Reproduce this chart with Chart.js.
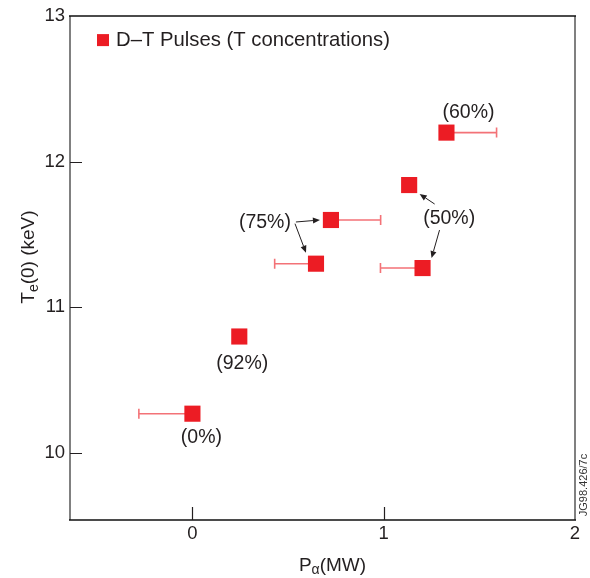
<!DOCTYPE html>
<html>
<head>
<meta charset="utf-8">
<script src="https://cdn.jsdelivr.net/npm/chart.js@4.4.1/dist/chart.umd.min.js"></script>
<style>
  html, body { margin: 0; padding: 0; background: #fff; }
  #wrap { width: 590px; height: 578px; position: relative; }
</style>
</head>
<body>
<div id="wrap"><canvas id="chart"></canvas></div>
<script>
// Alpha heating power (MW) and central electron temperature (keV) per D-T pulse
const pAlpha      = [0, 0.245, 0.646, 0.724, 1.133, 1.203, 1.328];
const teCentral   = [10.27, 10.80, 11.30, 11.60, 11.84, 11.27, 12.20];
// One-sided uncertainty on P_alpha (null where no bar is drawn)
const pAlphaLow   = [-0.28, null, 0.43, null, null, 0.983, null];
const pAlphaHigh  = [null, null, null, 0.984, null, null, 1.59];
// Tritium concentration of each pulse (%)
const tConc       = [0, 92, 75, 75, 50, 50, 60];

const xTicks = [0, 1, 2];
const yTicks = [10, 11, 12, 13];

const seriesLabel = 'D\u2013T Pulses (T concentrations)';
const RED = '#ec1c24';
const INK = '#231f20';
const FONT = '"Liberation Sans", Arial, Helvetica, sans-serif';

// Where each concentration label sits relative to an anchor pulse, and the
// arrows leading from the label to the pulses it refers to (pixel offsets).
const concNotes = [
  { anchor: 0, dx: 9,   dy: 24,  arrows: [] },
  { anchor: 1, dx: 3,   dy: 27,  arrows: [] },
  { anchor: 6, dx: 22,  dy: -20, arrows: [] },
  { anchor: 3, dx: -66, dy: 3, arrows: [
      { pt: 3, sx: -35, sy: 2,   ex: -11, ey: 0 },
      { pt: 2, sx: -21, sy: -40, ex: -10, ey: -11 } ] },
  { anchor: 4, dx: 40,  dy: 34, arrows: [
      { pt: 4, sx: 25.5, sy: 19, ex: 10.5, ey: 9 },
      { pt: 5, sx: 17,  sy: -38, ex: 9,   ey: -10 } ] }
];

const points = pAlpha.map((x, i) => ({ x: x, y: teCentral[i] }));

function arrow(ctx, x1, y1, x2, y2) {
  const ang = Math.atan2(y2 - y1, x2 - x1);
  const head = 7, half = 3;
  const bx = x2 - head * Math.cos(ang), by = y2 - head * Math.sin(ang);
  ctx.beginPath();
  ctx.moveTo(x1, y1);
  ctx.lineTo(bx, by);
  ctx.stroke();
  ctx.beginPath();
  ctx.moveTo(x2, y2);
  ctx.lineTo(bx + half * Math.sin(ang), by - half * Math.cos(ang));
  ctx.lineTo(bx - half * Math.sin(ang), by + half * Math.cos(ang));
  ctx.closePath();
  ctx.fill();
}

const decorations = {
  id: 'decorations',
  beforeDatasetsDraw(chart) {
    const { ctx, scales: { x, y } } = chart;
    ctx.save();
    ctx.strokeStyle = 'rgba(236,28,36,0.62)';
    ctx.lineWidth = 1.6;
    pAlpha.forEach((px, i) => {
      const cy = y.getPixelForValue(teCentral[i]);
      const cx = x.getPixelForValue(px);
      [pAlphaLow[i], pAlphaHigh[i]].forEach(v => {
        if (v === null) return;
        const ex = x.getPixelForValue(v);
        ctx.beginPath();
        ctx.moveTo(cx, cy); ctx.lineTo(ex, cy);
        ctx.moveTo(ex, cy - 5); ctx.lineTo(ex, cy + 5);
        ctx.stroke();
      });
    });
    ctx.restore();
  },
  afterDatasetsDraw(chart) {
    const { ctx, chartArea: a, scales: { x, y } } = chart;
    ctx.save();

    // frame
    ctx.lineCap = 'butt';
    ctx.strokeStyle = '#808080';
    ctx.lineWidth = 2;
    ctx.beginPath();
    ctx.moveTo(a.left, a.top); ctx.lineTo(a.left, a.bottom);
    ctx.moveTo(a.right, a.top); ctx.lineTo(a.right, a.bottom);
    ctx.stroke();
    ctx.strokeStyle = '#111';
    ctx.lineWidth = 1.5;
    ctx.beginPath();
    ctx.moveTo(a.left - 1, a.top); ctx.lineTo(a.right + 1, a.top);
    ctx.moveTo(a.left - 1, a.bottom); ctx.lineTo(a.right + 1, a.bottom);
    ctx.stroke();

    // inward tick marks
    ctx.strokeStyle = INK;
    ctx.lineWidth = 1.2;
    ctx.beginPath();
    yTicks.forEach(v => {
      const py = Math.round(y.getPixelForValue(v)) + 0.5;
      if (py < a.top + 2) return;
      ctx.moveTo(a.left, py); ctx.lineTo(a.left + 12, py);
    });
    xTicks.forEach(v => {
      const px = Math.round(x.getPixelForValue(v)) + 0.5;
      if (px > a.right - 2) return;
      ctx.moveTo(px, a.bottom); ctx.lineTo(px, a.bottom - 13);
    });
    ctx.stroke();

    // concentration labels and arrows
    ctx.fillStyle = INK;
    ctx.strokeStyle = INK;
    ctx.lineWidth = 1;
    ctx.font = '19.5px ' + FONT;
    ctx.textAlign = 'center';
    ctx.textBaseline = 'middle';
    concNotes.forEach(n => {
      const ax = x.getPixelForValue(pAlpha[n.anchor]);
      const ay = y.getPixelForValue(teCentral[n.anchor]);
      ctx.fillText('(' + tConc[n.anchor] + '%)', ax + n.dx, ay + n.dy);
      n.arrows.forEach(r => {
        const px = x.getPixelForValue(pAlpha[r.pt]);
        const py = y.getPixelForValue(teCentral[r.pt]);
        arrow(ctx, px + r.sx, py + r.sy, px + r.ex, py + r.ey);
      });
    });

    // legend
    const lx = a.left + 27, ly = a.top + 24;
    ctx.fillStyle = RED;
    ctx.fillRect(lx, ly - 6, 12, 12);
    ctx.fillStyle = INK;
    ctx.font = '20.3px ' + FONT;
    ctx.textAlign = 'left';
    ctx.fillText(chart.data.datasets[0].label, lx + 19, ly);

    // x axis title: P_alpha(MW)
    const cxm = (a.left + a.right) / 2 + 10;
    const ty = a.bottom + 44;
    ctx.font = '19px ' + FONT;
    ctx.textBaseline = 'alphabetic';
    const wP = ctx.measureText('P').width;
    ctx.font = '14px ' + FONT;
    const wA = ctx.measureText('\u03b1').width;
    ctx.font = '19px ' + FONT;
    const wR = ctx.measureText('(MW)').width;
    let sx = cxm - (wP + wA + wR) / 2;
    ctx.fillText('P', sx, ty + 7);
    ctx.font = '14px ' + FONT;
    ctx.fillText('\u03b1', sx + wP, ty + 10);
    ctx.font = '19px ' + FONT;
    ctx.fillText('(MW)', sx + wP + wA, ty + 7);

    // y axis title: T_e(0) (keV)
    ctx.save();
    ctx.translate(a.left - 43, (a.top + a.bottom) / 2 - 11);
    ctx.rotate(-Math.PI / 2);
    ctx.font = '19px ' + FONT;
    const wT = ctx.measureText('T').width;
    ctx.font = '14px ' + FONT;
    const wE = ctx.measureText('e').width;
    ctx.font = '19px ' + FONT;
    const wRest = ctx.measureText('(0) (keV)').width;
    sx = -(wT + wE + wRest) / 2;
    ctx.fillText('T', sx, 7);
    ctx.font = '14px ' + FONT;
    ctx.fillText('e', sx + wT, 11);
    ctx.font = '19px ' + FONT;
    ctx.fillText('(0) (keV)', sx + wT + wE, 7);
    ctx.restore();

    // figure reference along the right edge
    ctx.save();
    ctx.translate(a.right + 9, a.bottom - 35);
    ctx.rotate(-Math.PI / 2);
    ctx.font = '11px ' + FONT;
    ctx.fillStyle = '#333';
    ctx.textAlign = 'center';
    ctx.textBaseline = 'middle';
    ctx.fillText('JG98.426/7c', 0, 0);
    ctx.restore();

    ctx.restore();
  }
};

new Chart(document.getElementById('chart'), {
  type: 'scatter',
  data: {
    datasets: [{
      label: seriesLabel,
      data: points,
      backgroundColor: RED,
      borderWidth: 0,
      pointStyle: 'rect',
      pointRadius: 11.4,
      pointHoverRadius: 11.4
    }]
  },
  options: {
    responsive: true,
    maintainAspectRatio: false,
    devicePixelRatio: 1,
    animation: false,
    events: [],
    layout: { padding: { top: 15, right: 15, left: 0, bottom: 0 } },
    plugins: { legend: { display: false }, tooltip: { enabled: false } },
    scales: {
      x: {
        type: 'linear',
        min: -0.64,
        max: 2,
        afterBuildTicks: s => { s.ticks = xTicks.map(v => ({ value: v })); },
        afterFit: s => { s.height = 58; },
        grid: { display: false, drawTicks: false },
        border: { display: false },
        ticks: { padding: 3, color: INK, font: { family: FONT, size: 18.5 }, maxRotation: 0 }
      },
      y: {
        type: 'linear',
        min: 9.54,
        max: 13,
        afterBuildTicks: s => { s.ticks = yTicks.map(v => ({ value: v })); },
        afterFit: s => { s.width = 70; },
        grid: { display: false, drawTicks: false },
        border: { display: false },
        ticks: { padding: 5, color: INK, font: { family: FONT, size: 18.5 } }
      }
    }
  },
  plugins: [decorations]
});
</script>
</body>
</html>
